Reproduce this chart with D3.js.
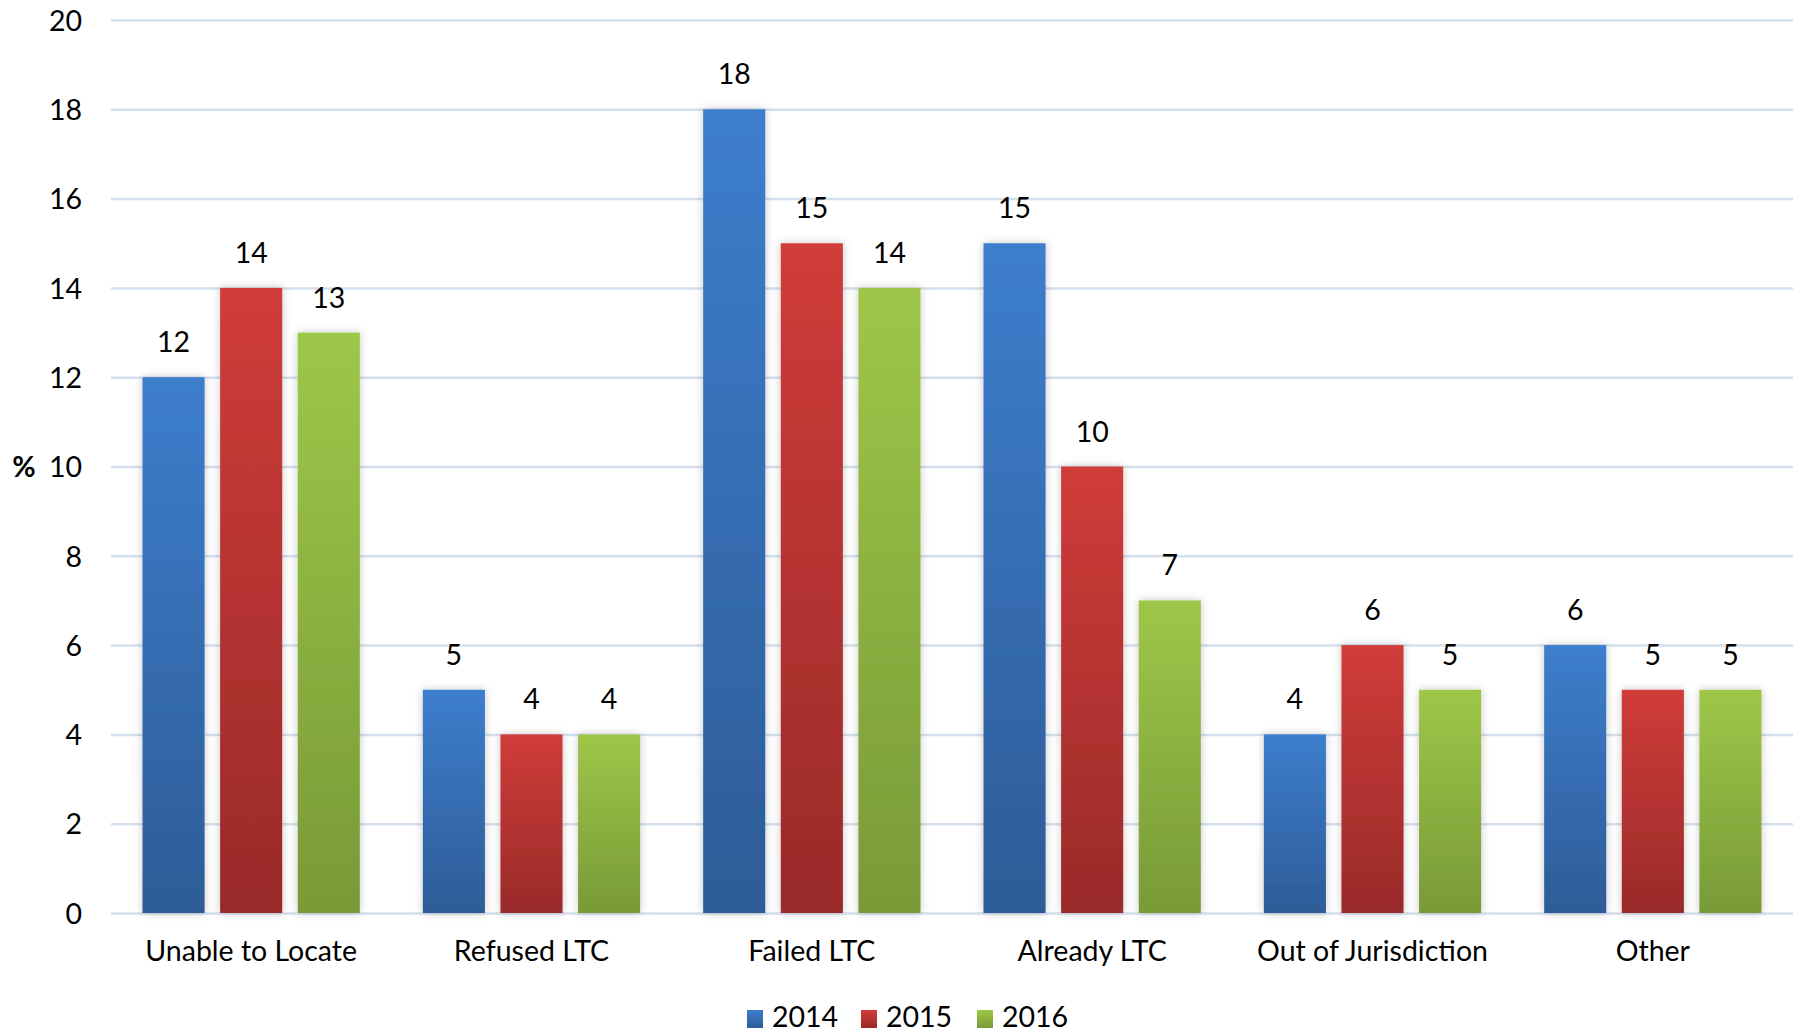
<!DOCTYPE html>
<html>
<head>
<meta charset="utf-8">
<script src="https://cdn.jsdelivr.net/npm/d3@7/dist/d3.min.js"></script>
<style>
  html, body { margin: 0; padding: 0; background: #fff; }
  svg { display: block; }
  text { font-family: Lato, "Open Sans", sans-serif; fill: #000; }
</style>
</head>
<body>
<svg id="chart" width="1799" height="1034"></svg>
<script>
// Reasons, by year, as a percentage
const categories = ["Unable to Locate", "Refused LTC", "Failed LTC", "Already LTC", "Out of Jurisdiction", "Other"];
const years = ["2014", "2015", "2016"];
const values2014 = [12, 5, 18, 15, 4, 6];
const values2015 = [14, 4, 15, 10, 6, 5];
const values2016 = [13, 4, 14, 7, 5, 5];
const yTicks = [0, 2, 4, 6, 8, 10, 12, 14, 16, 18, 20];

const seriesValues = [values2014, values2015, values2016];
const palette = {
  "2014": { top: "#3d7ecd", bottom: "#2d5c97" },
  "2015": { top: "#d03c3a", bottom: "#992a29" },
  "2016": { top: "#9ec748", bottom: "#789a38" }
};

const svg = d3.select("#chart");
const fontSize = 28.5;

const plot = { left: 111, right: 1793, top: 20, bottom: 913 };

const x = d3.scaleBand().domain(categories).range([plot.left, plot.right]);
const groupPad = 31.5;
const xs = d3.scaleBand().domain(years)
  .range([groupPad, x.bandwidth() - groupPad]).paddingInner(0.2);
const y = d3.scaleLinear().domain([0, 20]).range([plot.bottom, plot.top]);

// gradients and bar shadow
const defs = svg.append("defs");
years.forEach(yr => {
  const g = defs.append("linearGradient").attr("id", "grad" + yr)
    .attr("x1", 0).attr("y1", 0).attr("x2", 0).attr("y2", 1);
  g.append("stop").attr("offset", "0%").attr("stop-color", palette[yr].top);
  g.append("stop").attr("offset", "100%").attr("stop-color", palette[yr].bottom);
});
const f = defs.append("filter").attr("id", "shadow")
  .attr("x", "-30%").attr("y", "-10%").attr("width", "160%").attr("height", "120%");
f.append("feDropShadow").attr("dx", 0).attr("dy", 0).attr("stdDeviation", 4)
  .attr("flood-color", "#000").attr("flood-opacity", 0.22);

// gridlines
const grid = d3.axisLeft(y).tickValues(yTicks).tickSize(-(plot.right - plot.left)).tickFormat("");
svg.append("g").attr("transform", `translate(${plot.left},0)`).call(grid)
  .call(g => g.select(".domain").remove())
  .call(g => g.selectAll("line").attr("stroke", "#d5e0ee").attr("stroke-width", 2.5));

// y tick labels
const yAxis = d3.axisLeft(y).tickValues(yTicks).tickSize(0).tickPadding(0).tickFormat(d3.format("d"));
svg.append("g").attr("transform", "translate(82,0)").call(yAxis)
  .call(g => g.select(".domain").remove())
  .call(g => g.selectAll("text").attr("font-size", fontSize).attr("font-family", "Lato, sans-serif")
    .attr("fill", "#000").attr("dy", "0.36em"));

svg.append("text").attr("x", 24).attr("y", y(10)).attr("dy", "0.36em")
  .attr("text-anchor", "middle").attr("font-size", fontSize).attr("font-weight", "bold").text("%");

// bars
const groups = svg.append("g").selectAll("g").data(categories).join("g")
  .attr("transform", d => `translate(${x(d)},0)`);

years.forEach((yr, si) => {
  groups.append("rect")
    .attr("x", xs(yr))
    .attr("width", xs.bandwidth())
    .attr("y", (d, i) => y(seriesValues[si][i]))
    .attr("height", (d, i) => y(0) - y(seriesValues[si][i]))
    .attr("fill", `url(#grad${yr})`)
    .attr("filter", "url(#shadow)");
  groups.append("text")
    .attr("x", xs(yr) + xs.bandwidth() / 2)
    .attr("y", (d, i) => y(seriesValues[si][i]) - 25)
    .attr("text-anchor", "middle").attr("font-size", fontSize)
    .text((d, i) => seriesValues[si][i]);
});

// x axis labels
const xAxis = d3.axisBottom(x).tickSize(0).tickPadding(0);
svg.append("g").attr("transform", "translate(0,961)").call(xAxis)
  .call(g => g.select(".domain").remove())
  .call(g => g.selectAll("text").attr("font-size", fontSize).attr("font-family", "Lato, sans-serif")
    .attr("fill", "#000").attr("dy", 0));

// legend
const legendX = [747, 861, 977];
const legend = svg.append("g").selectAll("g").data(years).join("g")
  .attr("transform", (d, i) => `translate(${legendX[i]},1010)`);
legend.append("rect").attr("width", 16).attr("height", 18)
  .attr("fill", d => `url(#grad${d})`);
legend.append("text").attr("x", 25).attr("y", 17)
  .attr("font-size", fontSize).text(d => d);
</script>
</body>
</html>
